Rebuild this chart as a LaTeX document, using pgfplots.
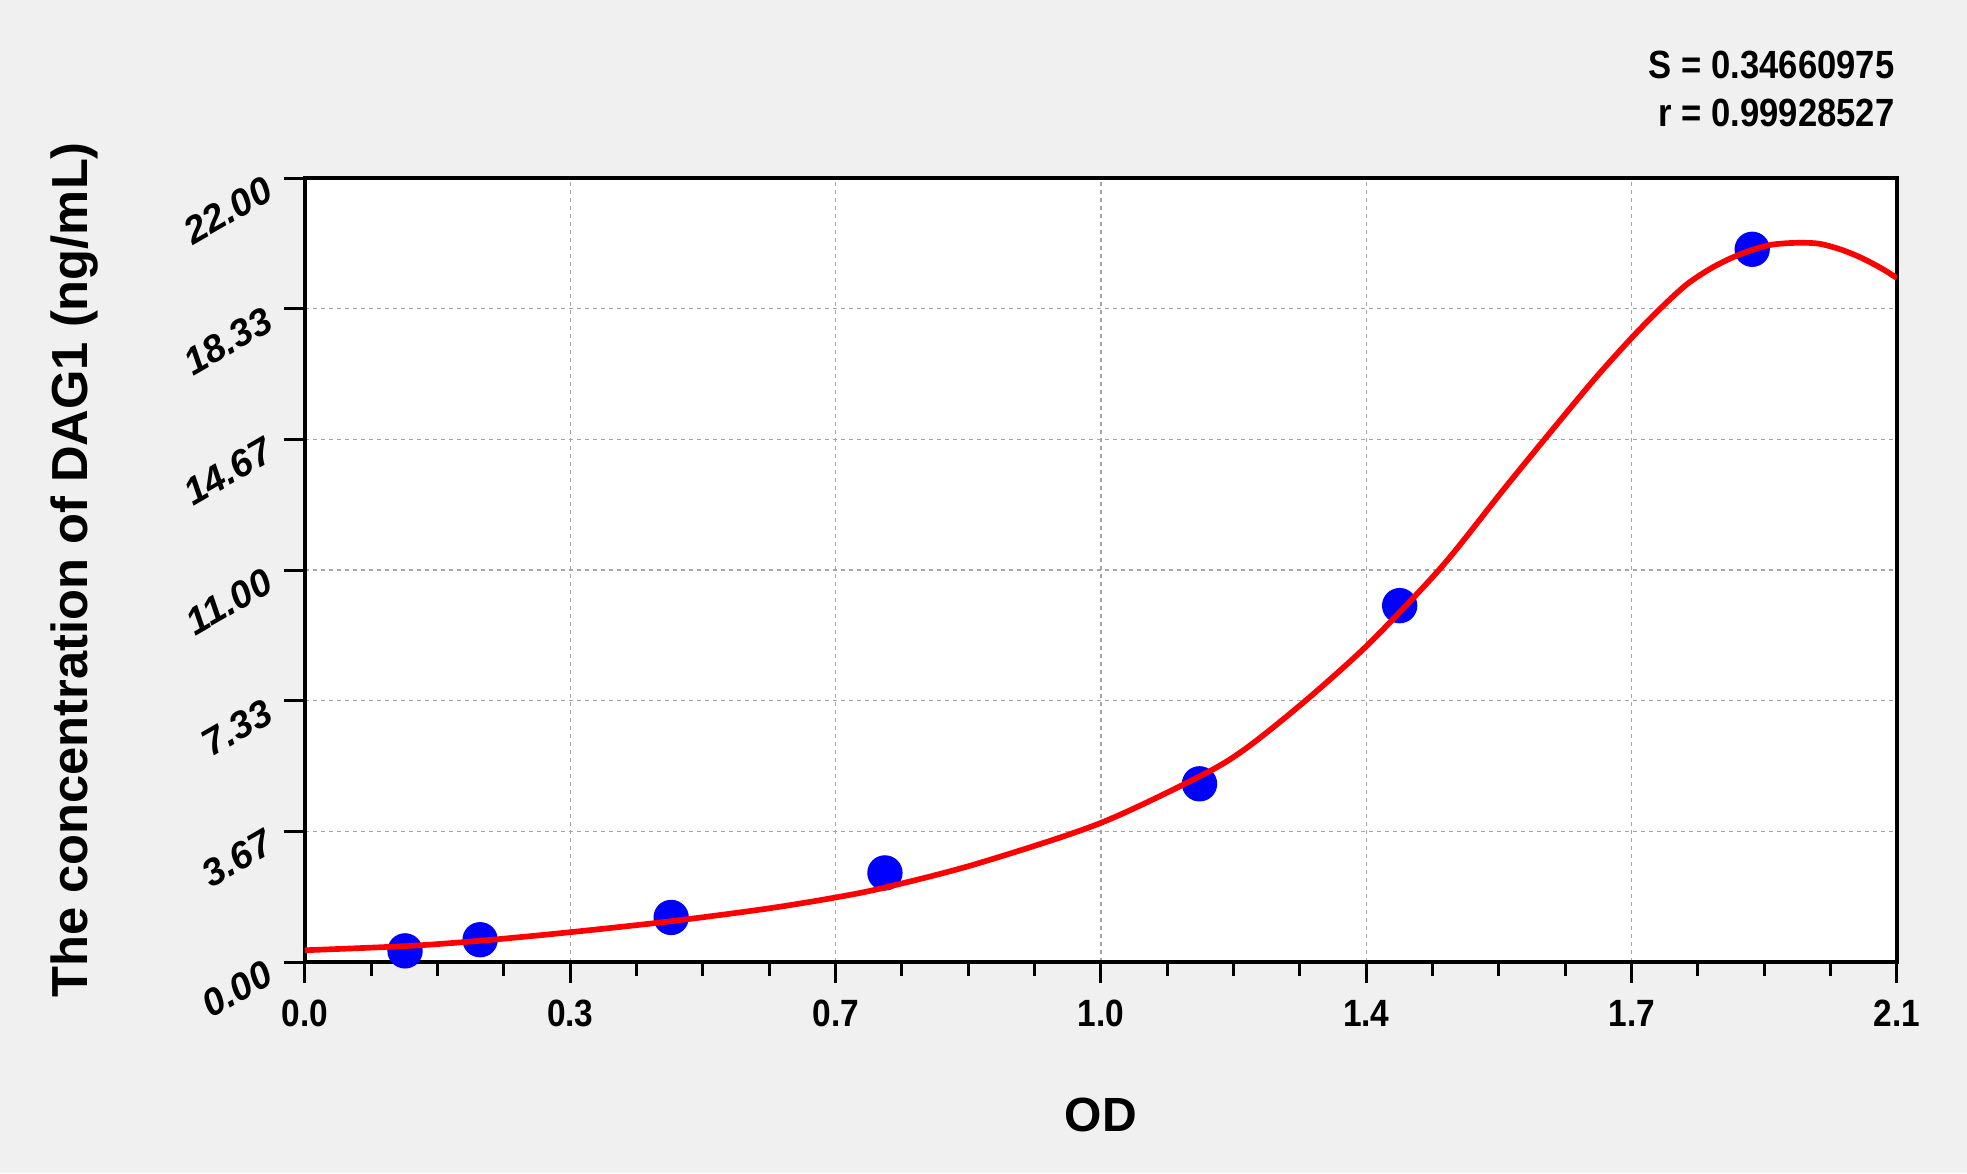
\documentclass[border=0pt]{standalone}
\usepackage{fontspec}
\setmainfont{Liberation Sans}
\newfontfamily\narrowfont{Liberation Sans}[FakeStretch=0.88]
\usepackage{pgfplots}
\pgfplotsset{compat=1.18}
\definecolor{bgGray}{RGB}{240,240,240}
\definecolor{gridGray}{RGB}{165,165,165}

\begin{document}
\begin{tikzpicture}
% page background (1 px = 0.3pt)
\fill[bgGray] (-91.5pt,-63.3pt) rectangle (498.6pt,288.6pt);
\begin{axis}[
    at={(0,0)}, anchor=south west,
    scale only axis,
    width=477.6pt, height=235.2pt,
    xmin=0, xmax=2.1, ymin=0, ymax=22,
    clip mode=individual,
    axis background/.style={fill=white},
    axis line style={black, line width=1.2pt},
    tick align=outside,
    xtick pos=bottom, ytick pos=left,
    xtick={0,0.35,0.7,1.05,1.4,1.75,2.1},
    xticklabels={0.0,0.3,0.7,1.0,1.4,1.7,2.1},
    ytick={0,3.66667,7.33333,11,14.66667,18.33333,22},
    yticklabels={0.00,3.67,7.33,11.00,14.67,18.33,22.00},
    minor x tick num=3, minor y tick num=3,
    major tick length=6.3pt, minor tick length=4.2pt,
    every tick/.style={black, line width=0.9pt},
    grid=major,
    major grid style={gridGray, line width=0.4pt, dash pattern=on 1.2pt off 1.2pt},
    xticklabel style={font=\narrowfont\bfseries\fontsize{11.4}{13}\selectfont, inner sep=0pt, yshift=-5pt},
    yticklabel style={font=\bfseries\itshape\fontsize{11.4}{13}\selectfont, rotate=30, anchor=east, inner sep=0pt, xshift=-5pt},
    xlabel={OD},
    ylabel={The concentration of DAG1 (ng/mL)},
    xlabel style={font=\bfseries\fontsize{14.4}{16}\selectfont, at={(axis description cs:0.5,-0.2168)}, anchor=base, inner sep=0pt},
    ylabel style={font=\bfseries\fontsize{15.2}{17}\selectfont, at={(axis description cs:-0.1369,0.5)}, anchor=base, inner sep=0pt},
]
% standards
\addplot[only marks, mark=*, mark size=5.1pt, mark options={fill=blue, draw=blue}] coordinates {
    (0.132,0.3125) (0.231,0.625) (0.483,1.25) (0.765,2.5)
    (1.180,5) (1.444,10) (1.909,20)
};
% fitted curve
\addplot[red, line width=1.7pt, smooth, tension=0.5] table {
x y
0.000 0.33
0.136 0.45
0.233 0.60
0.347 0.83
0.481 1.14
0.607 1.49
0.697 1.80
0.765 2.09
0.885 2.75
1.047 3.88
1.183 5.24
1.241 5.99
1.318 7.30
1.399 8.84
1.477 10.56
1.518 11.56
1.580 13.23
1.641 14.82
1.702 16.38
1.752 17.56
1.790 18.38
1.823 19.02
1.855 19.47
1.884 19.78
1.910 19.99
1.935 20.13
1.965 20.18
1.996 20.16
2.025 20.00
2.052 19.77
2.080 19.46
2.100 19.19
};
\node[anchor=base east, inner sep=0pt, xshift=-0.6pt, yshift=30pt,
      font=\narrowfont\bfseries\fontsize{11.8}{13}\selectfont] at (rel axis cs:1,1) {S = 0.34660975};
\node[anchor=base east, inner sep=0pt, xshift=-0.6pt, yshift=15.6pt,
      font=\narrowfont\bfseries\fontsize{11.8}{13}\selectfont] at (rel axis cs:1,1) {r = 0.99928527};
\end{axis}
\pgfresetboundingbox
\path[use as bounding box] (-91.5pt,-63.3pt) rectangle (498.6pt,288.6pt);
\end{tikzpicture}
\end{document}
